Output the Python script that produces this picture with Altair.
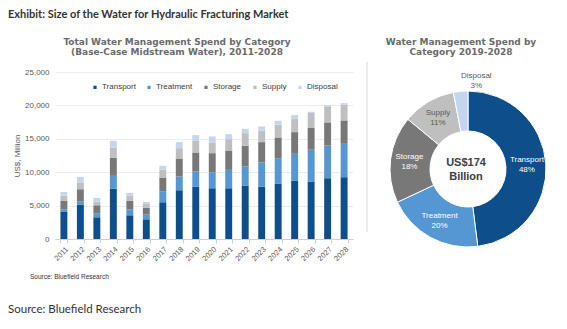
import altair as alt
import pandas as pd

# ---------------- data ----------------
years = [str(y) for y in range(2011, 2029)]
categories = ["Transport", "Treatment", "Storage", "Supply", "Disposal"]
transport = [4050, 5150, 3250, 7550, 3550, 2950, 5500, 7300, 7850, 7600, 7600, 8000, 7850, 8250, 8750, 8600, 9100, 9250]
treatment = [350, 500, 600, 1900, 900, 700, 1650, 2050, 2250, 2350, 2750, 2850, 3600, 3850, 4000, 4750, 4900, 5000]
storage = [1350, 1800, 1200, 2700, 1250, 1000, 2050, 2700, 2850, 2900, 2900, 3100, 3050, 3100, 3250, 3250, 3450, 3500]
supply = [750, 1000, 550, 1550, 750, 600, 1150, 1550, 1800, 1600, 1700, 1900, 1750, 1900, 1950, 2250, 2400, 2350]
disposal = [550, 850, 550, 1000, 450, 300, 600, 900, 800, 900, 750, 650, 600, 600, 600, 200, 200, 250]
y_ticks = [0, 5000, 10000, 15000, 20000, 25000]

donut_pct = [48, 20, 18, 11, 3]
total_label = ["US$174", "Billion"]

colors = ["#0e4f8b", "#5597d3", "#787878", "#bfbfbf", "#c6d5ef"]

series = [transport, treatment, storage, supply, disposal]
rows = []
for ci, (cat, vals) in enumerate(zip(categories, series)):
    for yr, v in zip(years, vals):
        rows.append({"year": yr, "cat": cat, "val": v, "idx": ci})
bars_df = pd.DataFrame(rows)

donut_df = pd.DataFrame({
    "cat": categories,
    "pct": donut_pct,
    "idx": list(range(len(categories))),
    "pl": [f"{p}%" for p in donut_pct],
})

TXT = "#595959"
color_scale = alt.Scale(domain=categories, range=colors)

# ---------------- bar chart ----------------
bars = alt.Chart(bars_df).mark_bar().encode(
    x=alt.X("year:N", sort=years,
            scale=alt.Scale(paddingInner=0.58, paddingOuter=0.33),
            axis=alt.Axis(title=None, labelAngle=315, labelFontSize=7.5, labelColor=TXT,
                          labelFont="Arial", domainColor="#d0d0d0", tickColor="#d0d0d0",
                          tickBand="extent", tickSize=4, labelPadding=2, grid=False)),
    y=alt.Y("val:Q", stack=True, scale=alt.Scale(domain=[0, 25000]),
            axis=alt.Axis(values=y_ticks, labelExpr="format(datum.value, ',.0f')",
                          title="US$, Million", titleFontSize=8,
                          titleFontWeight="normal", titleColor=TXT, titleFont="Arial",
                          labelFontSize=8, labelColor=TXT, labelFont="Arial", labelPadding=6,
                          titlePadding=3, domain=False, ticks=False, gridColor="#ececec")),
    color=alt.Color("cat:N", scale=color_scale, sort=categories,
                    legend=alt.Legend(title=None, orient="none", legendX=36, legendY=11,
                                      direction="horizontal", columns=5, symbolType="square",
                                      symbolSize=22, labelFontSize=8, labelColor="#404040",
                                      labelFont="Arial", columnPadding=7, labelOffset=3)),
    order=alt.Order("idx:Q"),
)

# ---------------- donut ----------------
CX, CY = 413, 97
donut_base = alt.Chart(donut_df).encode(
    theta=alt.Theta("pct:Q", stack=True),
    order=alt.Order("idx:Q"),
)
donut = donut_base.mark_arc(innerRadius=38, outerRadius=78, stroke="white", strokeWidth=1).encode(
    color=alt.Color("cat:N", scale=color_scale, sort=categories),
    x=alt.value(CX), y=alt.value(CY),
)
label_color = alt.condition(alt.datum.idx <= 2, alt.value("white"), alt.value(TXT))
inner = donut_base.transform_filter(alt.datum.idx < 4)
lab_name = inner.mark_text(radius=59, dy=-5, fontSize=8, font="Arial").encode(
    text="cat:N", x=alt.value(CX), y=alt.value(CY), color=label_color)
lab_pct = inner.mark_text(radius=59, dy=5, fontSize=8, font="Arial").encode(
    text="pl:N", x=alt.value(CX), y=alt.value(CY), color=label_color)
outer = donut_base.transform_filter(alt.datum.idx == 4)
lab_name_o = outer.mark_text(radius=88, dy=-5, fontSize=8, font="Arial", color=TXT).encode(
    text="cat:N", x=alt.value(CX), y=alt.value(CY))
lab_pct_o = outer.mark_text(radius=88, dy=5, fontSize=8, font="Arial", color=TXT).encode(
    text="pl:N", x=alt.value(CX), y=alt.value(CY))


def note(text, x, y, **style):
    return alt.Chart(pd.DataFrame({"t": [text]})).mark_text(**style).encode(
        x=alt.value(x), y=alt.value(y), text="t:N")


center1 = note(total_label[0], CX - 2, CY - 6, fontSize=11, fontWeight="bold", font="Arial", color="#404040")
center2 = note(total_label[1], CX - 2, CY + 8, fontSize=11, fontWeight="bold", font="Arial", color="#404040")

sub_style = dict(fontSize=9, fontWeight="bold", font="DejaVu Sans", color="#6a6a6a")
sub1 = note("Total Water Management Spend by Category", 122, -30, **sub_style)
sub2 = note("(Base-Case Midstream Water), 2011-2028", 122, -20, **sub_style)
sub3 = note("Water Management Spend by", 406, -30, **sub_style)
sub4 = note("Category 2019-2028", 406, -20, **sub_style)

title = note("Exhibit: Size of the Water for Hydraulic Fracturing Market", -47, -57,
             align="left", fontSize=11, fontWeight="bold", font="Lato", color="#333333")
src_small = note("Source: Bluefield Research", -25, 205, align="left", fontSize=6.5,
                 font="Arial", color="#333333")
src = note("Source: Bluefield Research", -47, 238, align="left", fontSize=11.5,
           font="Lato", color="#333333")

sep = alt.Chart(pd.DataFrame({"a": [0]})).mark_rule(color="#d9d9d9", strokeWidth=1).encode(
    x=alt.value(312), y=alt.value(-10), y2=alt.value(160))

chart = alt.layer(
    bars, sep, donut, lab_name, lab_pct, lab_name_o, lab_pct_o,
    center1, center2, sub1, sub2, sub3, sub4, title, src_small, src,
).properties(
    width=298, height=167,
    autosize=alt.AutoSizeParams(type="none"),
    padding={"left": 55, "top": 72, "right": 214, "bottom": 90},
    background="white",
).configure_view(stroke=None)

chart.save("out.html", embed_options={"renderer": "svg", "actions": False})
